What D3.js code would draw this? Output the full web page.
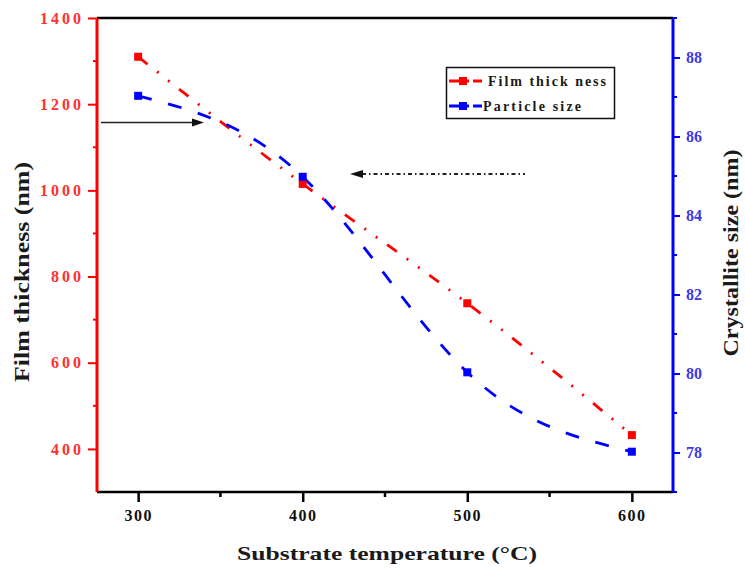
<!DOCTYPE html>
<html><head><meta charset="utf-8">
<script src="https://cdn.jsdelivr.net/npm/d3@7"></script>
<style>body{margin:0;background:#fff}svg{display:block}text{font-family:"Liberation Serif","Times New Roman",serif;font-weight:bold}</style>
</head><body>
<svg id="c" width="745" height="569"></svg>
<script>
const temperatures = [300, 400, 500, 600];
const filmThickness = [1310, 1015, 738, 432];
const particleSize = [87.03, 84.98, 80.03, 78.02];
const xTicks = [300, 400, 500, 600];
const xMinor = [350, 450, 550];
const leftTicks = [400, 600, 800, 1000, 1200, 1400];
const leftMinor = [500, 700, 900, 1100, 1300];
const rightTicks = [78, 80, 82, 84, 86, 88];
const rightMinor = [77, 79, 81, 83, 85, 87, 89];
const legendLabels = ["Film  thick ness", "Particle size"];

const svg = d3.select("#c");
const L = 97, R = 673, T = 18, B = 492;
const x = d3.scaleLinear().domain([275, 625]).range([L, R]);
const yL = d3.scaleLinear().domain([300, 1400]).range([B, T]);
const yR = d3.scaleLinear().domain([77, 89]).range([B, T]);
const RED = "#ff0000", BLUE = "#0000ff";

// frame top
svg.append("line").attr("x1", L).attr("x2", R).attr("y1", T).attr("y2", T).attr("stroke", "#000").attr("stroke-width", 2.5);

// bottom axis
const gx = svg.append("g").attr("transform", `translate(0,${B})`);
gx.call(d3.axisBottom(x).tickValues(xTicks).tickSize(10).tickPadding(8).tickFormat(d3.format("d")));
gx.select(".domain").remove();
gx.append("line").attr("x1", L).attr("x2", R).attr("stroke", "#000").attr("stroke-width", 2.5);
gx.selectAll(".tick line").attr("stroke", "#000").attr("stroke-width", 2.5);
gx.selectAll(".tick text").attr("fill", "#111").attr("font-size", 16).attr("letter-spacing", 1.5).attr("font-family", "Liberation Serif").attr("font-weight", "bold");
gx.selectAll(".minor").data(xMinor).enter().append("line")
  .attr("x1", d => x(d)).attr("x2", d => x(d)).attr("y1", 0).attr("y2", 5).attr("stroke", "#000").attr("stroke-width", 2.5);

// left axis
const gl = svg.append("g").attr("transform", `translate(${L},0)`);
gl.call(d3.axisLeft(yL).tickValues(leftTicks).tickSize(9).tickPadding(4).tickFormat(d3.format("d")));
gl.select(".domain").remove();
gl.append("line").attr("y1", T).attr("y2", B).attr("stroke", RED).attr("stroke-width", 3);
gl.selectAll(".tick line").attr("stroke", RED).attr("stroke-width", 2);
gl.selectAll(".tick text").attr("fill", "#ff3030").attr("font-size", 16).attr("letter-spacing", 3).attr("font-family", "Liberation Serif").attr("font-weight", "bold");
gl.selectAll(".minor").data(leftMinor).enter().append("line")
  .attr("x1", -4).attr("x2", 0).attr("y1", d => yL(d)).attr("y2", d => yL(d)).attr("stroke", RED).attr("stroke-width", 2);

// right axis
const gr = svg.append("g").attr("transform", `translate(${R},0)`);
gr.call(d3.axisRight(yR).tickValues(rightTicks).tickSize(7).tickPadding(6).tickFormat(d3.format("d")));
gr.select(".domain").remove();
gr.append("line").attr("y1", T).attr("y2", B).attr("stroke", BLUE).attr("stroke-width", 3);
gr.selectAll(".tick line").attr("stroke", BLUE).attr("stroke-width", 2);
gr.selectAll(".tick text").attr("fill", "#3a3ae6").attr("font-size", 16).attr("font-family", "Liberation Serif").attr("font-weight", "bold");
gr.selectAll(".minor").data(rightMinor).enter().append("line")
  .attr("x1", 0).attr("x2", 4).attr("y1", d => yR(d)).attr("y2", d => yR(d)).attr("stroke", BLUE).attr("stroke-width", 2);

// axis titles
svg.append("text").attr("transform", `translate(29,272) rotate(-90)`).attr("text-anchor", "middle")
  .attr("font-size", 22).attr("fill", "#1a1a1a").attr("textLength", 220).attr("lengthAdjust", "spacingAndGlyphs").text("Film thickness (nm)");
svg.append("text").attr("transform", `translate(738,253) rotate(-90)`).attr("text-anchor", "middle")
  .attr("font-size", 21).attr("fill", "#1a1a1a").attr("textLength", 207).attr("lengthAdjust", "spacingAndGlyphs").text("Crystallite size (nm)");
svg.append("text").attr("x", 387).attr("y", 560).attr("text-anchor", "middle")
  .attr("font-size", 19).attr("fill", "#1a1a1a").attr("textLength", 300).attr("lengthAdjust", "spacingAndGlyphs").text("Substrate temperature (°C)");

// data lines
const redData = temperatures.map((t, i) => [t, filmThickness[i]]);
const blueData = temperatures.map((t, i) => [t, particleSize[i]]);
svg.append("path").datum(redData)
  .attr("d", d3.line().x(d => x(d[0])).y(d => yL(d[1])).curve(d3.curveNatural))
  .attr("fill", "none").attr("stroke", RED).attr("stroke-width", 2.8).attr("stroke-dasharray", "12,12,2,12,2,12");
svg.append("path").datum(blueData)
  .attr("d", d3.line().x(d => x(d[0])).y(d => yR(d[1])).curve(d3.curveNatural))
  .attr("fill", "none").attr("stroke", BLUE).attr("stroke-width", 2.8).attr("stroke-dasharray", "14,17");
const S = 8;
svg.selectAll(".rm").data(redData).enter().append("rect")
  .attr("x", d => x(d[0]) - S / 2).attr("y", d => yL(d[1]) - S / 2).attr("width", S).attr("height", S).attr("fill", RED);
svg.selectAll(".bm").data(blueData).enter().append("rect")
  .attr("x", d => x(d[0]) - S / 2).attr("y", d => yR(d[1]) - S / 2).attr("width", S).attr("height", S).attr("fill", BLUE);

// arrows
svg.append("line").attr("x1", 101).attr("x2", 194).attr("y1", 122.5).attr("y2", 122.5).attr("stroke", "#222").attr("stroke-width", 1.5);
svg.append("path").attr("d", "M192,118.5 L204,122.5 L192,126.5 Z").attr("fill", "#111");
svg.append("line").attr("x1", 362).attr("x2", 525).attr("y1", 174).attr("y2", 174).attr("stroke", "#222").attr("stroke-width", 1.8).attr("stroke-dasharray", "4,3,1.5,3");
svg.append("path").attr("d", "M350,174 L363,170 L363,178 Z").attr("fill", "#111");

// legend
const lg = svg.append("g");
lg.append("rect").attr("x", 446.5).attr("y", 67.5).attr("width", 168).attr("height", 51).attr("fill", "#fff").attr("stroke", "#111").attr("stroke-width", 1.5);
[[RED, 81], [BLUE, 106]].forEach(([c, yy], i) => {
  lg.append("line").attr("x1", 449).attr("x2", 482).attr("y1", yy).attr("y2", yy).attr("stroke", c).attr("stroke-width", 3).attr("stroke-dasharray", "20,4,10");
  lg.append("rect").attr("x", 459).attr("y", yy - 4).attr("width", 8).attr("height", 8).attr("fill", c);
  lg.append("text").attr("x", i === 0 ? 488 : 483).attr("y", yy + 4.5).attr("font-size", 14).attr("fill", "#1a1a1a")
    .attr("textLength", i === 0 ? 118 : 98).attr("lengthAdjust", "spacing").text(legendLabels[i]);
});
</script>
</body></html>
